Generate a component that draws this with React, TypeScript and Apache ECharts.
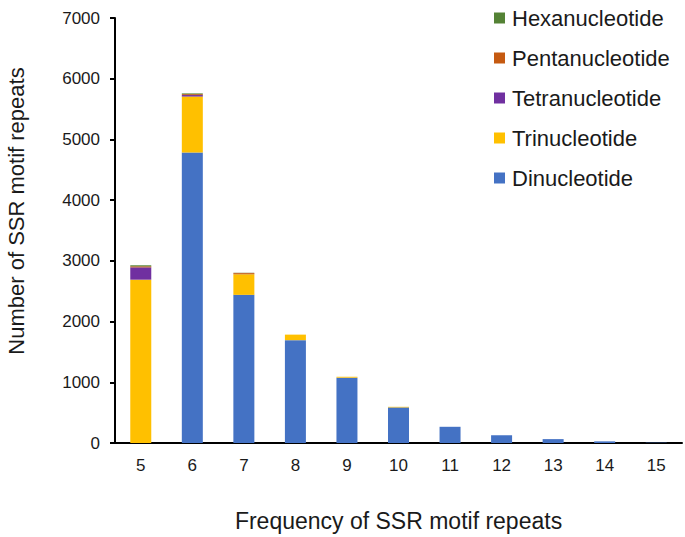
import React, { useEffect, useRef } from "react";
import * as echarts from "echarts";

const categories = ["5", "6", "7", "8", "9", "10", "11", "12", "13", "14", "15"];
const dinucleotide = [0, 4783, 2440, 1694, 1076, 586, 267, 128, 64, 27, 5];
const trinucleotide = [2690, 923, 341, 91, 15, 10, 0, 0, 0, 0, 0];
const tetranucleotide = [203, 25, 5, 0, 0, 0, 0, 0, 0, 0, 0];
const pentanucleotide = [17, 15, 15, 0, 0, 0, 0, 0, 0, 0, 0];
const hexanucleotide = [17, 12, 3, 0, 0, 0, 0, 0, 0, 0, 0];
const yTicks = [0, 1000, 2000, 3000, 4000, 5000, 6000, 7000];

const seriesNames = ["Dinucleotide", "Trinucleotide", "Tetranucleotide", "Pentanucleotide", "Hexanucleotide"];
const seriesData = [dinucleotide, trinucleotide, tetranucleotide, pentanucleotide, hexanucleotide];
const colors = ["#4472C4", "#FFC000", "#7030A0", "#C55A11", "#548235"];

const FONT = "'Liberation Sans', Arial, Helvetica, sans-serif";

export default function App() {
  const ref = useRef<HTMLDivElement>(null);
  useEffect(() => {
    if (!ref.current) return;
    const chart = echarts.init(ref.current, undefined, { renderer: "svg" });
    chart.setOption({
      animation: false,
      backgroundColor: "#ffffff",
      textStyle: { fontFamily: FONT },
      grid: { left: 115, right: 3, top: 18, bottom: 81, containLabel: false },
      legend: {
        orient: "vertical",
        left: 489,
        top: 1,
        itemWidth: 11,
        itemHeight: 11,
        itemGap: 16,
        icon: "rect",
        data: [...seriesNames].reverse(),
        textStyle: { fontSize: 22, color: "#1a1a1a", fontFamily: FONT, padding: [0, 0, 0, 2], lineHeight: 24 },
      },
      xAxis: {
        type: "category",
        data: categories,
        name: "Frequency of SSR motif repeats",
        nameLocation: "middle",
        nameGap: 66,
        nameTextStyle: { fontSize: 23, color: "#1a1a1a", fontFamily: FONT },
        axisLine: { lineStyle: { color: "#000", width: 2 } },
        axisTick: { show: false },
        axisLabel: { fontSize: 17, color: "#1a1a1a", margin: 14, fontFamily: FONT },
      },
      yAxis: {
        type: "value",
        min: yTicks[0],
        max: yTicks[yTicks.length - 1],
        interval: 1000,
        axisLine: { show: true, lineStyle: { color: "#000", width: 2 } },
        axisTick: { show: true, length: 5, lineStyle: { color: "#000", width: 2 } },
        splitLine: { show: false },
        axisLabel: {
          fontSize: 17,
          color: "#1a1a1a",
          margin: 15,
          fontFamily: FONT,
          formatter: (v: number) => String(v),
        },
      },
      graphic: [
        {
          type: "text",
          x: 16,
          y: 211,
          rotation: Math.PI / 2,
          style: {
            text: "Number of SSR motif repeats",
            fontSize: 22,
            fontFamily: FONT,
            fill: "#1a1a1a",
            textAlign: "center",
            textVerticalAlign: "middle",
          },
        },
      ],
      series: seriesNames.map((name, i) => ({
        name,
        type: "bar",
        stack: "total",
        barWidth: 21,
        data: seriesData[i],
        itemStyle: { color: colors[i] },
      })),
    });
    return () => chart.dispose();
  }, []);
  return <div ref={ref} style={{ width: 685, height: 537, position: "absolute", left: 0, top: 0 }} />;
}
